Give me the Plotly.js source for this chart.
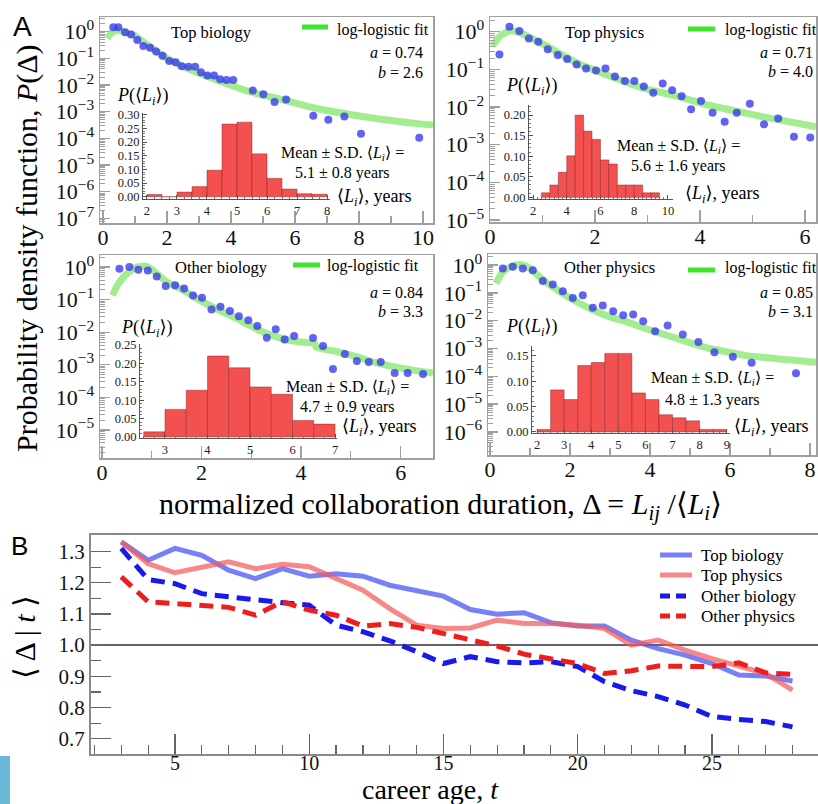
<!DOCTYPE html>
<html>
<head>
<meta charset="utf-8">
<script src="https://cdn.plot.ly/plotly-3.0.1.min.js"></script>
<style>html,body{margin:0;padding:0;background:#fff}#chart{width:818px;height:804px}</style>
</head>
<body>
<div id="chart"></div>
<script>
// ---------------- DATA ----------------
const panelNames = ['Top biology', 'Top physics', 'Other biology', 'Other physics'];
const fitA = [0.74, 0.71, 0.84, 0.85];
const fitB = [2.6, 4.0, 3.3, 3.1];
const meanL = [5.1, 5.6, 4.7, 4.8];
const sdL = [0.8, 1.6, 0.9, 1.3];

// Panel A – empirical P(Delta) (blue dots)
const topBioX = [0.32,0.48,0.69,0.88,1.07,1.26,1.47,1.66,1.86,2.07,2.27,2.46,2.67,2.88,3.06,3.26,3.47,3.66,3.86,4.07,4.68,5.01,5.36,5.72,6.57,7.04,7.54,8.06,9.88];
const topBioP = [1.45,1.45,0.95,0.79,0.49,0.29,0.25,0.18,0.126,0.079,0.072,0.051,0.049,0.049,0.030,0.023,0.023,0.0166,0.0155,0.0155,0.0062,0.0045,0.0023,0.0029,0.00071,0.0005,0.00066,0.00015,0.000107];
const topPhysX = [0.18,0.37,0.56,0.74,0.92,1.1,1.29,1.47,1.65,1.83,2.02,2.2,2.38,2.57,2.75,2.93,3.11,3.29,3.47,3.65,3.83,4.02,4.24,4.47,4.7,4.95,5.22,5.49,5.79,6.1];
const topPhysP = [0.25,1.35,1.05,0.66,0.54,0.34,0.24,0.19,0.135,0.105,0.093,0.105,0.065,0.049,0.049,0.035,0.024,0.042,0.028,0.0195,0.0087,0.0145,0.0071,0.0041,0.0071,0.0123,0.0035,0.005,0.00162,0.00155];
const otherBioX = [0.35,0.55,0.73,0.92,1.1,1.28,1.47,1.65,1.83,2.01,2.2,2.38,2.57,2.75,2.94,3.12,3.31,3.49,3.67,3.86,4.24,4.44,4.64,4.88,5.12,5.36,5.6,5.88,6.14,6.45];
const otherBioP = [0.89,1.0,0.83,0.79,0.51,0.26,0.275,0.22,0.135,0.115,0.05,0.06,0.045,0.031,0.0234,0.0155,0.0068,0.0123,0.006,0.0076,0.0066,0.0038,0.00074,0.00214,0.00132,0.00123,0.00123,0.00056,0.00056,0.00052];
const otherPhysX = [0.32,0.57,0.82,1.07,1.32,1.57,1.82,2.07,2.32,2.57,2.82,3.08,3.33,3.58,3.83,4.13,4.44,4.82,5.21,5.61,6.07,6.54,7.65];
const otherPhysP = [0.76,0.87,0.76,0.66,0.27,0.2,0.115,0.066,0.083,0.0295,0.035,0.022,0.0158,0.0166,0.0095,0.0042,0.0068,0.0032,0.0017,0.00074,0.00051,0.00031,0.000129];

// Panel A – log-logistic fit curves (green)
const topBioFitX = [0.13,0.25,0.38,0.55,0.75,0.95,1.2,1.47,1.99,2.61,3.55,4.59,5.64,6.68,7.72,8.76,9.9,10.31];
const topBioFitP = [0.56,0.85,1.10,1.07,0.89,0.76,0.47,0.275,0.1,0.043,0.0155,0.0056,0.00275,0.00132,0.00079,0.00051,0.00035,0.00032];
const topPhysFitX = [0.05,0.19,0.38,0.57,1.02,1.65,2.29,2.92,3.56,4.19,4.83,5.46,6.21];
const topPhysFitP = [0.42,0.76,1.05,0.93,0.46,0.15,0.066,0.032,0.0195,0.011,0.0071,0.0047,0.003];
const otherBioFitX = [0.21,0.33,0.5,0.7,0.9,1.1,1.3,1.63,1.97,2.3,2.64,2.97,3.31,3.64,3.98,4.27,4.3,4.7,5.04,5.5,6.0,6.65];
const otherBioFitP = [0.135,0.31,0.63,1.0,1.05,0.63,0.35,0.195,0.095,0.052,0.0295,0.0162,0.0091,0.0063,0.005,0.0045,0.0035,0.0026,0.0019,0.00117,0.00079,0.00056];
const otherPhysFitX = [0.15,0.29,0.5,0.75,1.0,1.33,1.75,2.17,2.58,3.0,3.42,3.83,4.25,4.67,5.08,5.5,5.92,6.33,7.17,8.15];
const otherPhysFitP = [0.22,0.5,0.87,1.05,0.76,0.29,0.11,0.048,0.024,0.0138,0.0091,0.0056,0.0036,0.0023,0.0015,0.001,0.00076,0.00058,0.00043,0.00032];

// Insets – histogram of <L_i> (bin centres, bin width 0.5 years)
const topBioBins = [2.25,2.75,3.25,3.75,4.25,4.75,5.25,5.75,6.25,6.75,7.25,7.75];
const topBioHist = [0.008,0,0.017,0.037,0.097,0.266,0.273,0.157,0.067,0.028,0.011,0.009];
const topPhysBins = [2.75,3.25,3.75,4.25,4.75,5.25,5.75,6.25,6.75,7.25,7.75,8.25,8.75,9.25];
const topPhysHist = [0.011,0.030,0.061,0.101,0.200,0.161,0.141,0.091,0.081,0.030,0.030,0.030,0.011,0.011];
const otherBioBins = [2.75,3.25,3.75,4.25,4.75,5.25,5.75,6.25,6.75];
const otherBioHist = [0.014,0.075,0.127,0.220,0.188,0.136,0.116,0.045,0.035];
const otherPhysBins = [2.25,2.75,3.25,3.75,4.25,4.75,5.25,5.75,6.25,6.75,7.25,7.75,8.25,8.75];
const otherPhysHist = [0.005,0.083,0.064,0.131,0.137,0.155,0.155,0.077,0.064,0.034,0.028,0.022,0.005,0.005];

// Main-panel y tick labels (decades)
const decadeVals = [1, 1e-1, 1e-2, 1e-3, 1e-4, 1e-5, 1e-6, 1e-7];
const decadeText = ['10<sup>0</sup>','10<sup>\u22121</sup>','10<sup>\u22122</sup>','10<sup>\u22123</sup>','10<sup>\u22124</sup>','10<sup>\u22125</sup>','10<sup>\u22126</sup>','10<sup>\u22127</sup>'];
const decadesShown = [8, 6, 6, 7];

// Panel B – <Delta | t> vs career age
const careerAge = [3,4,5,6,7,8,9,10,11,12,13,14,15,16,17,18,19,20,21,22,23,24,25,26,27,28];
const topBioB = [1.331,1.272,1.31,1.288,1.24,1.213,1.245,1.221,1.229,1.221,1.192,1.176,1.157,1.114,1.099,1.104,1.072,1.061,1.061,1.016,0.989,0.968,0.941,0.904,0.901,0.885];
const topPhysB = [1.331,1.261,1.232,1.251,1.267,1.245,1.259,1.251,1.213,1.176,1.117,1.064,1.053,1.055,1.08,1.069,1.069,1.064,1.053,1.0,1.016,0.984,0.957,0.933,0.909,0.856];
const otherBioB = [1.31,1.21,1.197,1.165,1.155,1.144,1.136,1.128,1.064,1.043,1.014,0.979,0.941,0.963,0.947,0.943,0.947,0.931,0.883,0.854,0.835,0.808,0.771,0.762,0.755,0.738];
const otherPhysB = [1.219,1.139,1.133,1.128,1.121,1.096,1.139,1.112,1.096,1.061,1.069,1.057,1.037,1.014,0.997,0.971,0.954,0.941,0.909,0.918,0.933,0.931,0.931,0.943,0.911,0.906];
const seriesB = ['Top biology', 'Top physics', 'Other biology', 'Other physics'];

// ---------------- LAYOUT HELPERS ----------------
const W = 818, H = 804;
const PX = v => v / W, PY = v => 1 - v / H;
const SERIF = '"Liberation Serif", "Times New Roman", "DejaVu Serif", serif';
const SANS = '"Liberation Sans", Arial, sans-serif';
const FR = '#a0a0a0';
const sfx = n => (n === 1 ? '' : String(n));

const ptsX = [topBioX, topPhysX, otherBioX, otherPhysX];
const ptsP = [topBioP, topPhysP, otherBioP, otherPhysP];
const fitXs = [topBioFitX, topPhysFitX, otherBioFitX, otherPhysFitX];
const fitPs = [topBioFitP, topPhysFitP, otherBioFitP, otherPhysFitP];
const binsX = [topBioBins, topPhysBins, otherBioBins, otherPhysBins];
const binsH = [topBioHist, topPhysHist, otherBioHist, otherPhysHist];

// geometry (pixels) of each panel
const geo = [
  {l:100, r:433, t:17,  b:223, xr:[-0.094,10.31], yr:[-7.17,0.55],
   il:143, ir:330, it:113, ib:199, ixr:[1.867,8.1],  iyr:[-0.0084,0.3066], idt:1,
   title:[212,32], leg:[302,328,27], legT:[335,30], ab:[425,52,72], P:[143,96], mean:[342,154,173], yrs:[335,197]},
  {l:490, r:816, t:17,  b:222, xr:[0,6.21], yr:[-5.05,0.39],
   il:529, ir:673, it:105, ib:199, ixr:[1.763,10.3], iyr:[-0.0041,0.2246], idt:2,
   title:[604,32], leg:[688,715,29], legT:[723,30], ab:[815,52,71], P:[532,86], mean:[678,146,166], yrs:[683,195]},
  {l:100, r:433, t:255, b:458, xr:[-0.04,6.65], yr:[-5.86,0.37],
   il:140, ir:337, it:344, ib:437.5, ixr:[2.412,7.047], iyr:[-0.0014,0.2527], idt:1,
   title:[222,267], leg:[293,320,265], legT:[325,266], ab:[425,292,311], P:[147,329], mean:[347,387,407], yrs:[340,427]},
  {l:488, r:816, t:254, b:455, xr:[-0.05,8.15], yr:[-6.83,0.4],
   il:532, ir:730, it:346, ib:433, ixr:[1.815,9.12], iyr:[-0.002,0.1696], idt:1,
   title:[609,267], leg:[688,715,270], legT:[723,268], ab:[815,292,311], P:[532,328], mean:[712,378,400], yrs:[732,427]}
];

const traces = [];
const layout = {
  width: W, height: H, margin: {l:0, r:0, t:0, b:0},
  paper_bgcolor: '#fff', plot_bgcolor: 'rgba(0,0,0,0)',
  bargap: 0, showlegend: false,
  annotations: [], shapes: []
};
const A = layout.annotations;
function T(text, x, y, size, opt) {
  A.push(Object.assign({text: text, x: PX(x), y: PY(y), xref: 'paper', yref: 'paper', showarrow: false,
    xanchor: 'center', yanchor: 'middle', font: {family: SERIF, size: size, color: '#000'}}, opt || {}));
}
const Li = '\u27E8<i>L<sub>i</sub></i>\u27E9';

for (let i = 0; i < 4; i++) {
  const g = geo[i], m = i + 1, s = i + 5;
  // main axes
  layout['xaxis' + sfx(m)] = {
    domain: [PX(g.l), PX(g.r)], range: g.xr, anchor: 'y' + sfx(m), tick0: 0, dtick: 2,
    ticks: 'inside', ticklen: 12, tickwidth: 1.3, tickcolor: FR, ticklabelstandoff: -6,
    showline: true, mirror: true, linecolor: FR, linewidth: 1.5, showgrid: false, zeroline: false,
    tickfont: {family: SERIF, size: 22, color: '#111'},
    minor: {tick0: 0, dtick: 1, ticks: 'inside', ticklen: 7, tickwidth: 1.2, tickcolor: FR, showgrid: false}
  };
  layout['yaxis' + sfx(m)] = {
    domain: [PY(g.b), PY(g.t)], type: 'log', range: g.yr, anchor: 'x' + sfx(m),
    tickmode: 'array', tickvals: decadeVals.slice(0, decadesShown[i]), ticktext: decadeText.slice(0, decadesShown[i]),
    ticks: 'inside', ticklen: 10, tickwidth: 1.3, tickcolor: FR,
    showline: true, mirror: true, linecolor: FR, linewidth: 1.5, showgrid: false, zeroline: false,
    tickfont: {family: SERIF, size: 22, color: '#111'},
    minor: {dtick: 'D1', ticks: 'inside', ticklen: 5, tickwidth: 1, tickcolor: FR, showgrid: false}
  };
  // inset axes
  layout['xaxis' + s] = {
    domain: [PX(g.il), PX(g.ir)], range: g.ixr, anchor: 'y' + s, tick0: 0, dtick: g.idt,
    ticks: 'inside', ticklen: 4, tickcolor: '#555', showline: true, linecolor: '#555', linewidth: 1,
    showgrid: false, zeroline: false, tickfont: {family: SERIF, size: 12.5, color: '#222'},
    minor: {tick0: 0, dtick: 0.25, ticks: 'inside', ticklen: 2, tickcolor: '#777', showgrid: false}
  };
  layout['yaxis' + s] = {
    domain: [PY(g.ib), PY(g.it)], range: g.iyr, anchor: 'x' + s, tick0: 0, dtick: 0.05, tickformat: '.2f',
    ticks: 'inside', ticklen: 4, tickcolor: '#555', showline: true, linecolor: '#555', linewidth: 1,
    showgrid: false, zeroline: false, tickfont: {family: SERIF, size: 12.5, color: '#222'},
    minor: {tick0: 0, dtick: 0.01, ticks: 'inside', ticklen: 2, tickcolor: '#777', showgrid: false}
  };

  traces.push({type: 'scatter', mode: 'lines', x: fitXs[i], y: fitPs[i], xaxis: 'x' + sfx(m), yaxis: 'y' + sfx(m),
    line: {color: 'rgba(105,226,75,0.62)', width: 7, shape: 'spline', smoothing: 0.7}, showlegend: false, hoverinfo: 'skip'});
  traces.push({type: 'scatter', mode: 'markers', x: ptsX[i], y: ptsP[i], xaxis: 'x' + sfx(m), yaxis: 'y' + sfx(m),
    marker: {color: 'rgba(60,60,240,0.8)', size: 8}, showlegend: false, hoverinfo: 'skip'});
  traces.push({type: 'bar', x: binsX[i], y: binsH[i], width: 0.5, xaxis: 'x' + s, yaxis: 'y' + s,
    marker: {color: 'rgb(243,80,80)', line: {color: 'rgba(130,30,30,0.55)', width: 0.8}}, showlegend: false, hoverinfo: 'skip'});

  // texts
  T(panelNames[i], g.title[0], g.title[1], 16.5);
  layout.shapes.push({type: 'line', xref: 'paper', yref: 'paper', x0: PX(g.leg[0]), x1: PX(g.leg[1]), y0: PY(g.leg[2]), y1: PY(g.leg[2]),
    line: {color: '#3fe42b', width: 5}});
  T('log-logistic fit', g.legT[0], g.legT[1], 16, {xanchor: 'left'});
  T('<i>a</i> = ' + fitA[i].toFixed(2), g.ab[0], g.ab[1], 16, {xanchor: 'right'});
  T('<i>b</i> = ' + fitB[i].toFixed(1), g.ab[0], g.ab[2], 16, {xanchor: 'right'});
  T('<i>P</i>(' + Li + ')', g.P[0], g.P[1], 18);
  T('Mean \u00B1 S.D. ' + Li + ' =', g.mean[0], g.mean[1], 16);
  T(meanL[i].toFixed(1) + ' \u00B1 ' + sdL[i].toFixed(1) + ' years', g.mean[0], g.mean[2], 16);
  T(Li + ', years', g.yrs[0], g.yrs[1], 18, {xanchor: 'left'});
}

// Panel B axes
layout.xaxis9 = {
  domain: [PX(91), 1], range: [1.872, 28.95], anchor: 'y9', tick0: 0, dtick: 5,
  ticks: 'inside', ticklen: 20, tickwidth: 1.3, tickcolor: '#666', ticklabelstandoff: -10,
  showline: true, mirror: true, linecolor: '#8a8a8a', linewidth: 2, showgrid: false, zeroline: false,
  tickfont: {family: SERIF, size: 20, color: '#111'},
  minor: {tick0: 0, dtick: 1, ticks: 'inside', ticklen: 9, tickwidth: 1.2, tickcolor: '#666', showgrid: false}
};
layout.yaxis9 = {
  domain: [PY(754), PY(535)], range: [0.651, 1.353], anchor: 'x9', tick0: 0, dtick: 0.1, tickformat: '.1f',
  ticks: 'inside', ticklen: 20, tickwidth: 1.3, tickcolor: '#666',
  showline: true, mirror: true, linecolor: '#8a8a8a', linewidth: 2, showgrid: false, zeroline: false,
  tickfont: {family: SERIF, size: 21, color: '#111'},
  minor: {tick0: 0, dtick: 0.05, ticks: 'inside', ticklen: 10, tickwidth: 1.2, tickcolor: '#666', showgrid: false}
};
layout.shapes.push({type: 'line', xref: 'x9 domain', yref: 'y9', x0: 0, x1: 1, y0: 1, y1: 1, layer: 'below',
  line: {color: 'rgba(70,70,70,0.85)', width: 2}});

const bY = [topBioB, topPhysB, otherBioB, otherPhysB];
const bStyle = [
  {color: 'rgba(75,85,245,0.75)', dash: 'solid'},
  {color: 'rgba(245,90,90,0.72)', dash: 'solid'},
  {color: 'rgb(25,25,235)', dash: '14px,8px'},
  {color: 'rgb(238,30,30)', dash: '14px,8px'}
];
const legRows = [555, 575, 596, 616];
for (let k = 0; k < 4; k++) {
  traces.push({type: 'scatter', mode: 'lines', name: seriesB[k], x: careerAge, y: bY[k], xaxis: 'x9', yaxis: 'y9',
    line: {color: bStyle[k].color, width: 5, dash: bStyle[k].dash}, showlegend: false, hoverinfo: 'skip'});
  // legend sample + label
  layout.shapes.push({type: 'line', xref: 'paper', yref: 'paper', x0: PX(660), x1: PX(692), y0: PY(legRows[k]), y1: PY(legRows[k]),
    line: {color: bStyle[k].color, width: 5, dash: k >= 2 ? '10px,6px' : 'solid'}});
  T(seriesB[k], 699, legRows[k], 17, {xanchor: 'left'});
}

// Big labels and axis titles
T('A', 22, 26, 28, {font: {family: SANS, size: 28, color: '#000'}});
T('B', 19, 546, 26, {font: {family: SANS, size: 26, color: '#000'}});
T('Probability density function, <i>P</i>(\u0394)', 27, 248, 30, {textangle: -90});
T('normalized collaboration duration, \u0394 = <i>L<sub>ij</sub></i> /' + Li, 440, 506, 30);
T('\u27E8 \u0394 | <i>t</i> \u27E9', 24, 637, 30, {textangle: -90});
T('career age, <i>t</i>', 430, 789, 28);

// light-blue strip in the lower-left corner
layout.shapes.push({type: 'rect', xref: 'paper', yref: 'paper', x0: 0, x1: PX(10), y0: 0, y1: PY(756),
  line: {width: 0}, fillcolor: 'rgb(108,184,216)'});

Plotly.newPlot('chart', traces, layout, {staticPlot: true, displayModeBar: false});
</script>
</body>
</html>
